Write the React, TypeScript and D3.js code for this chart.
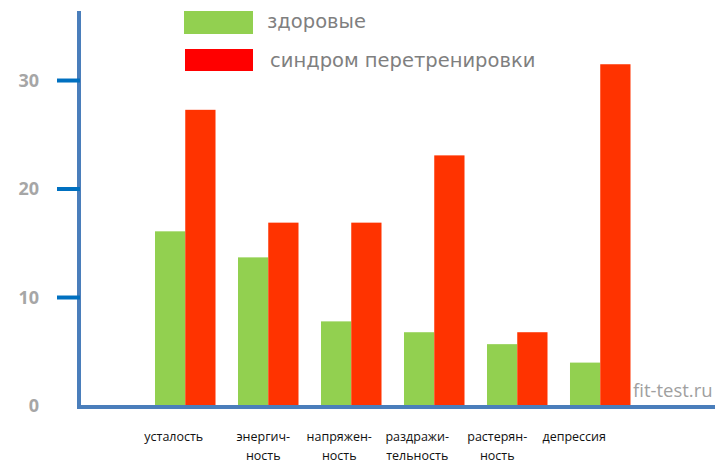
import React from "react";
import * as d3 from "d3";

const categories = ["усталость", "энергичность", "напряженность", "раздражительность", "растерянность", "депрессия"];
const categoryLabels: string[][] = [
  ["усталость"],
  ["энергич-", "ность"],
  ["напряжен-", "ность"],
  ["раздражи-", "тельность"],
  ["растерян-", "ность"],
  ["депрессия"],
];
const healthy = [16.1, 13.7, 7.8, 6.8, 5.7, 4.0];
const overtrained = [27.3, 16.9, 16.9, 23.1, 6.8, 31.5];
const seriesNames = ["здоровые", "синдром перетренировки"];
const yTicks = [0, 10, 20, 30];
// horizontal offset of each category label from its group centre (as in the source)
const labelShift = [-11.5, -5, -12, -17, -20, -26];

const W = 715;
const H = 474;

export default function App() {
  const y = d3.scaleLinear().domain([0, 36.5]).range([406, 10]);
  const x = d3.scaleBand<string>().domain(categories).range([155, 630.5]).paddingInner(0.271).paddingOuter(0);
  const bw = x.bandwidth() / 2;
  const series = [
    { name: seriesNames[0], values: healthy, color: "#92d050", legend: "#92d050" },
    { name: seriesNames[1], values: overtrained, color: "#ff3300", legend: "#ff0000" },
  ];
  return (
    <svg width={W} height={H} style={{ position: "absolute", left: 0, top: 0, background: "#fff" }}>
      {series.map((s, si) =>
        categories.map((c, i) => (
          <rect
            key={s.name + c}
            x={(x(c) as number) + si * bw}
            y={y(s.values[i])}
            width={bw}
            height={y(0) - y(s.values[i])}
            fill={s.color}
          />
        ))
      )}
      <line x1={79} x2={79} y1={11} y2={409} stroke="#4a7ebb" strokeWidth={4} />
      <line x1={77} x2={W} y1={407} y2={407} stroke="#4a7ebb" strokeWidth={4} />
      {yTicks.map((t) => (
        <g key={t}>
          {t > 0 && <line x1={57} x2={80} y1={y(t)} y2={y(t)} stroke="#0070c0" strokeWidth={4} />}
          <text
            x={39}
            y={y(t)}
            dy="0.36em"
            textAnchor="end"
            fontFamily="'Open Sans', sans-serif"
            fontWeight="bold"
            fontSize={18}
            fill="#a6a6a6"
          >
            {t}
          </text>
        </g>
      ))}
      {categories.map((c, i) => {
        const cx = (x(c) as number) + x.bandwidth() / 2 + labelShift[i];
        return (
          <text key={c} textAnchor="middle" fontFamily="'Open Sans', sans-serif" fontSize={12.5} fill="#111">
            {categoryLabels[i].map((l, li) => (
              <tspan key={li} x={cx} y={441 + li * 19}>
                {l}
              </tspan>
            ))}
          </text>
        );
      })}
      {series.map((s, si) => (
        <g key={s.name}>
          <rect x={184 + si} y={11 + si * 38} width={69 - si} height={23 - si} fill={s.legend} />
          <text
            x={267 + si * 3}
            y={28 + si * 39}
            fontFamily="'DejaVu Sans', sans-serif"
            fontSize={19.5}
            fill="#7f7f7f"
          >
            {s.name}
          </text>
        </g>
      ))}
      <text x={633} y={397} fontFamily="'Open Sans', sans-serif" fontSize={18.5} fill="#a0a0a0">
        fit-test.ru
      </text>
    </svg>
  );
}
